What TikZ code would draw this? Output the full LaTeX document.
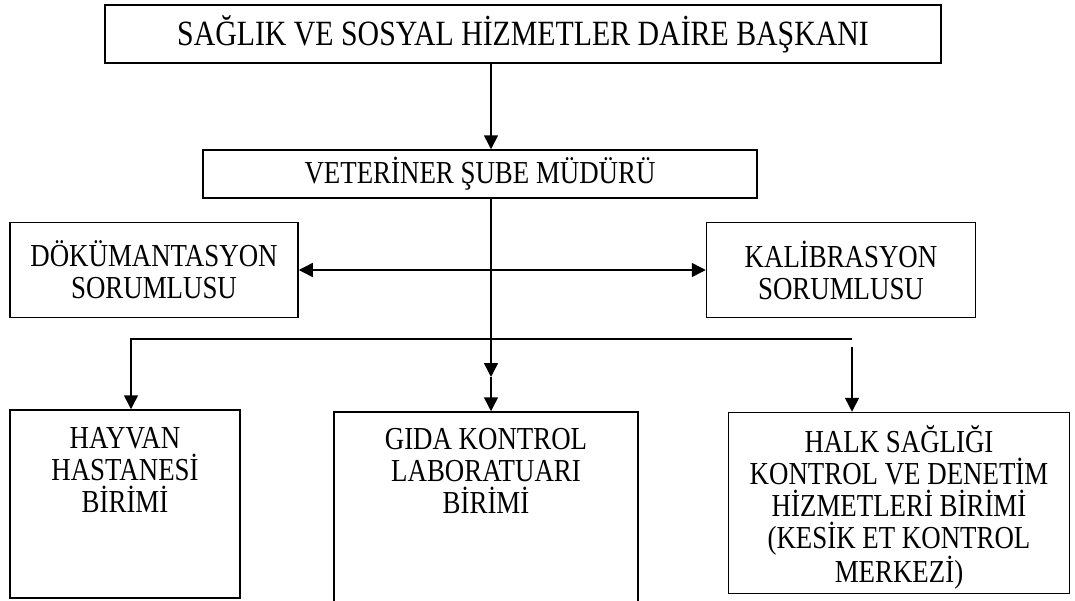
\documentclass[tikz,border=0pt]{standalone}
\usepackage{fontspec}
\setmainfont{Liberation Serif}[FakeStretch=0.84]
\usetikzlibrary{arrows.meta}

\begin{document}
\begin{tikzpicture}[x=1pt, y=-1pt,
box/.style={draw=black, line width=1.5pt, align=center, inner sep=0pt, font=\fontsize{32}{32}\selectfont},
lbl/.style={anchor=north, align=center, inner sep=0pt, font=\fontsize{32}{32}\selectfont, execute at begin node=\strut},
arr/.style={-{Triangle[length=14pt, width=14pt]}, line width=1.5pt}
]
\useasboundingbox (0,0) rectangle (1075,600);
%Nodes
\node[box, minimum width=836pt, minimum height=58pt, font=\fontsize{35.5}{36}\selectfont] (head) at (523,34) {SAĞLIK VE SOSYAL HİZMETLER DAİRE BAŞKANI};
\node[box, minimum width=554pt, minimum height=48pt] (vet) at (480,174) {VETERİNER ŞUBE MÜDÜRÜ};
\node[box, minimum width=288pt, minimum height=95pt] (dok) at (154,270) {DÖKÜMANTASYON\\SORUMLUSU};
\node[box, minimum width=269pt, minimum height=95pt] (kal) at (841,270) {KALİBRASYON\\SORUMLUSU};
\node[box, minimum width=230pt, minimum height=188pt, label={[lbl, yshift=-18pt]north:{HAYVAN\\HASTANESİ\\BİRİMİ}}] (hayvan) at (125,504) {};
\node[box, minimum width=304pt, minimum height=192pt, label={[lbl, yshift=-17pt]north:{GIDA KONTROL\\LABORATUARI\\BİRİMİ}}] (gida) at (486,508) {};
\node[box, minimum width=341pt, minimum height=181pt, label={[lbl, yshift=-13pt]north:{HALK SAĞLIĞI\\KONTROL VE DENETİM\\HİZMETLERİ BİRİMİ\\(KESİK ET KONTROL\\MERKEZİ)}}] (halk) at (899,503) {};
\coordinate (trunk) at (491,0);
\coordinate (midtip) at (491,377);
\coordinate (busL) at (131,339);
\coordinate (busR) at (852,339);
\coordinate (dropR) at (852,347);
%Lines
\draw[arr] (head.south -| trunk) -- (vet.north -| trunk);
\draw[arr] (vet.south -| trunk) -- (midtip);
\draw[arr] (midtip) -- (gida.north -| trunk);
\draw[arr, {Triangle[length=14pt, width=14pt]}-{Triangle[length=14pt, width=14pt]}] (dok.east) -- (kal.west);
\draw[arr] (busR) -- (busL) -- (hayvan.north -| busL);
\draw[arr] (dropR) -- (halk.north -| dropR);
\end{tikzpicture}
\end{document}
